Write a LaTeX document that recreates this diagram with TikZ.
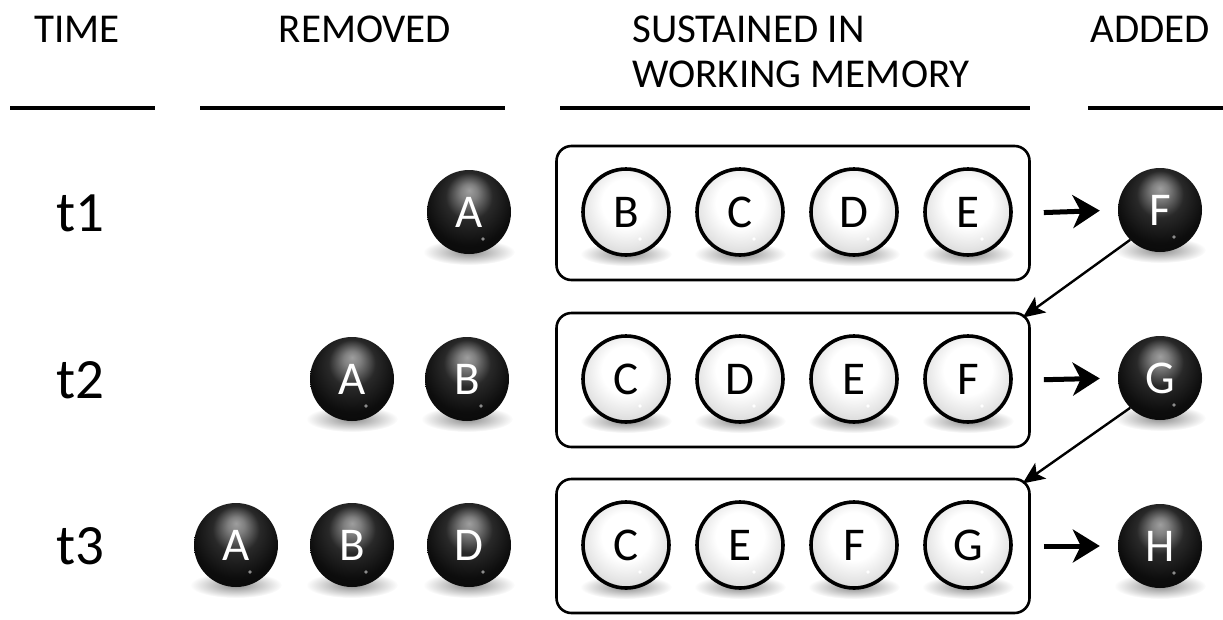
\documentclass[tikz,border=0pt]{standalone}
\usepackage{fontspec}
\setmainfont{Carlito}
\usetikzlibrary{arrows.meta,calc}

% glassy balls
\pgfdeclareradialshading{darkglass}{\pgfqpoint{0bp}{13bp}}{color(0bp)=(black!38); color(5bp)=(black!50); color(14bp)=(black!84); color(26bp)=(black!95); color(50bp)=(black)}
\pgfdeclareradialshading{lightglass}{\pgfqpoint{0bp}{7bp}}{color(0bp)=(white); color(14bp)=(white); color(24bp)=(black!10); color(36bp)=(black!24); color(50bp)=(black!32)}

\begin{document}
\begin{tikzpicture}[
    x=1pt, y=-1pt,
    heading/.style={font=\fontsize{41}{45}\selectfont, inner sep=0pt},
    rule/.style={line width=4pt},
    timelabel/.style={font=\fontsize{57}{57}\selectfont},
    darkball/.style={circle, minimum size=84pt, inner sep=0pt, shading=darkglass, text=white,
      font=\fontsize{47}{47}\selectfont,
      path picture={\fill[black!45] ($(path picture bounding box.center)+(14pt,-27pt)$) circle (1.8pt);}},
    lightball/.style={circle, minimum size=86pt, inner sep=0pt, shading=lightglass, draw=black,
      line width=3.6pt, font=\fontsize{47}{47}\selectfont,
      path picture={\fill[white] ($(path picture bounding box.center)+(14pt,-27pt)$) circle (1.8pt);}},
    ballshadow/.style={inner color=black!45, outer color=white},
    memorybox/.style={rectangle, draw, line width=2.6pt, rounded corners=15pt,
      minimum width=473pt, minimum height=134pt},
    bigarrow/.style={line width=5pt, -{Stealth[length=27pt,width=33pt,inset=8pt]},
      shorten <=13pt, shorten >=18pt},
    feedarrow/.style={line width=2.4pt, -{Stealth[length=22pt,width=19pt,inset=5pt]}, shorten >=-10pt}
  ]
  \useasboundingbox (0,0) rectangle (1223,619);

  % column headings
  \node[heading,anchor=base] (hTime) at (77,42) {TIME};
  \node[heading,anchor=base] (hRemoved) at (365,42) {REMOVED};
  \node[heading,anchor=base west] (hSustained) at (632,42) {SUSTAINED IN};
  \node[heading,anchor=base west] (hMemory) at (632,87) {WORKING MEMORY};
  \node[heading,anchor=base] (hAdded) at (1150,42) {ADDED};
  \draw[rule] (10,108) -- (155,108);
  \draw[rule] (200,108) -- (505,108);
  \draw[rule] (560,108) -- (1030,108);
  \draw[rule] (1088,108) -- (1223,108);

  % time steps and boxes
  \foreach \row/\y in {1/213, 2/380, 3/546}{
    \node[timelabel] (t\row) at (80,\y) {t\row};
    \node[memorybox] (box\row) at (793,\y) {};
  }

  % removed items
  \foreach \lbl/\x/\y/\nm in {A/469/212/rmA1, A/352/379/rmA2, B/467/379/rmB2,
                              A/236/545/rmA3, B/352/545/rmB3, D/469/545/rmD3}{
    \shade[ballshadow] (\x,\y+40) ellipse (46 and 13);
    \node[darkball] (\nm) at (\x,\y) {\lbl};
  }

  % items sustained in working memory
  \foreach \lbl/\x/\y/\nm in {B/626/212/wmB1, C/740/212/wmC1, D/854/212/wmD1, E/968/212/wmE1,
                              C/626/379/wmC2, D/740/379/wmD2, E/854/379/wmE2, F/968/379/wmF2,
                              C/626/545/wmC3, E/740/545/wmE3, F/854/545/wmF3, G/968/545/wmG3}{
    \shade[ballshadow] (\x,\y+42) ellipse (46 and 12);
    \node[lightball] (\nm) at (\x,\y) {\lbl};
  }

  % added items
  \foreach \lbl/\y/\row in {F/210/1, G/378/2, H/546/3}{
    \shade[ballshadow] (1160,\y+40) ellipse (46 and 13);
    \node[darkball] (add\row) at (1160,\y) {\lbl};
  }

  \foreach \row in {1,2,3}
    \draw[bigarrow] (box\row.east) -- (add\row.west);
  \draw[feedarrow] (add1.225) -- (box2.north east);
  \draw[feedarrow] (add2.225) -- (box3.north east);
\end{tikzpicture}
\end{document}
